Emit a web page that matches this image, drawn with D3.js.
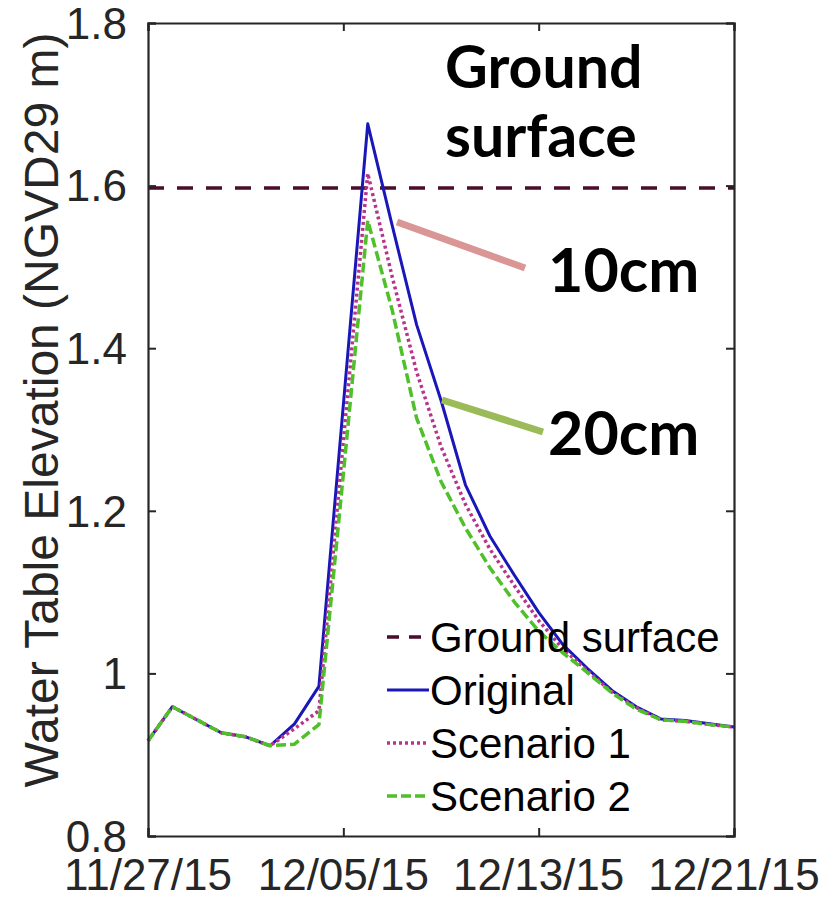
<!DOCTYPE html>
<html>
<head>
<meta charset="utf-8">
<script src="https://cdn.jsdelivr.net/npm/d3@7"></script>
<style>
  body { margin: 0; background: #fff; }
  svg { display: block; }
</style>
</head>
<body>
<script>
// daily dates of the record
const dates = [
  '2015-11-27', '2015-11-28', '2015-11-29', '2015-11-30', '2015-12-01',
  '2015-12-02', '2015-12-03', '2015-12-04', '2015-12-05', '2015-12-06',
  '2015-12-07', '2015-12-08', '2015-12-09', '2015-12-10', '2015-12-11',
  '2015-12-12', '2015-12-13', '2015-12-14', '2015-12-15', '2015-12-16',
  '2015-12-17', '2015-12-18', '2015-12-19', '2015-12-20', '2015-12-21'
];
const original = [0.917, 0.959, 0.943, 0.927, 0.922, 0.911, 0.938, 0.984, 1.330, 1.676,
  1.551, 1.429, 1.336, 1.232, 1.169, 1.121, 1.075, 1.035, 1.006, 0.979,
  0.959, 0.944, 0.942, 0.938, 0.934];
const scenario1 = [0.917, 0.959, 0.943, 0.927, 0.922, 0.911, 0.932, 0.954, 1.285, 1.615,
  1.488, 1.371, 1.279, 1.208, 1.153, 1.108, 1.065, 1.030, 1.003, 0.977,
  0.958, 0.943, 0.941, 0.937, 0.934];
const scenario2 = [0.917, 0.959, 0.943, 0.927, 0.922, 0.911, 0.913, 0.937, 1.245, 1.557,
  1.447, 1.314, 1.236, 1.179, 1.130, 1.088, 1.052, 1.025, 1.001, 0.976,
  0.956, 0.943, 0.941, 0.937, 0.934];
const groundDates = ['2015-11-27', '2015-12-21'];
const groundSurface = [1.597, 1.597];

const xTicks = ['2015-11-27', '2015-12-05', '2015-12-13', '2015-12-21'];
const xTickLabels = ['11/27/15', '12/05/15', '12/13/15', '12/21/15'];
const yTicks = [0.8, 1, 1.2, 1.4, 1.6, 1.8];
const yTickLabels = ['0.8', '1', '1.2', '1.4', '1.6', '1.8'];
const seriesNames = ['Ground surface', 'Original', 'Scenario 1', 'Scenario 2'];

const parse = d3.timeParse('%Y-%m-%d');
const width = 836, height = 900;
const m = { left: 148, right: 734, top: 23, bottom: 836 };
const axisColor = '#262626';

const x = d3.scaleTime()
  .domain([parse(dates[0]), parse(dates[dates.length - 1])])
  .range([m.left, m.right]);
const y = d3.scaleLinear().domain([0.8, 1.8]).range([m.bottom, m.top]);

const styles = [
  { color: '#4a0d2c', width: 3.5, dash: '16,13' },
  { color: '#1a17b8', width: 3, dash: null },
  { color: '#b8338c', width: 3.5, dash: '3,3' },
  { color: '#4fbf2a', width: 3.5, dash: '10,4' }
];

const svg = d3.select('body').append('svg')
  .attr('width', width)
  .attr('height', height);

const toPts = (ds, vs) => ds.map((d, i) => ({ date: parse(d), v: vs[i] }));
const series = [
  toPts(groundDates, groundSurface),
  toPts(dates, original),
  toPts(dates, scenario1),
  toPts(dates, scenario2)
];

const line = d3.line().x((d) => x(d.date)).y((d) => y(d.v));

svg.append('g')
  .selectAll('path')
  .data(series)
  .join('path')
  .attr('fill', 'none')
  .attr('stroke', (d, i) => styles[i].color)
  .attr('stroke-width', (d, i) => styles[i].width)
  .attr('stroke-dasharray', (d, i) => styles[i].dash)
  .attr('stroke-linejoin', 'round')
  .attr('d', line);

// axes box, ticks inward on all sides (matlab style)
const tickLen = 8;
const xAxisB = d3.axisBottom(x).tickValues(xTicks.map(parse)).tickSize(-tickLen).tickFormat('');
const xAxisT = d3.axisTop(x).tickValues(xTicks.map(parse)).tickSize(-tickLen).tickFormat('');
const yAxisL = d3.axisLeft(y).tickValues(yTicks).tickSize(-tickLen).tickFormat('');
const yAxisR = d3.axisRight(y).tickValues(yTicks).tickSize(-tickLen).tickFormat('');

const axes = [
  svg.append('g').attr('transform', `translate(0,${m.bottom})`).call(xAxisB),
  svg.append('g').attr('transform', `translate(0,${m.top})`).call(xAxisT),
  svg.append('g').attr('transform', `translate(${m.left},0)`).call(yAxisL),
  svg.append('g').attr('transform', `translate(${m.right},0)`).call(yAxisR)
];
axes.forEach((g) => {
  g.select('.domain').attr('stroke', axisColor).attr('stroke-width', 2.2);
  g.selectAll('.tick line').attr('stroke', axisColor).attr('stroke-width', 2);
});

// tick labels
svg.append('g')
  .selectAll('text')
  .data(xTicks)
  .join('text')
  .attr('x', (d) => x(parse(d)))
  .attr('y', 890)
  .attr('text-anchor', 'middle')
  .attr('font-family', 'Liberation Sans, Arial, sans-serif')
  .attr('font-size', 44)
  .attr('fill', axisColor)
  .text((d, i) => xTickLabels[i]);

svg.append('g')
  .selectAll('text')
  .data(yTicks)
  .join('text')
  .attr('x', 127)
  .attr('y', (d) => y(d))
  .attr('dy', '0.36em')
  .attr('text-anchor', 'end')
  .attr('font-family', 'Liberation Sans, Arial, sans-serif')
  .attr('font-size', 44)
  .attr('fill', axisColor)
  .text((d, i) => yTickLabels[i]);

svg.append('text')
  .attr('transform', 'translate(58,410) rotate(-90)')
  .attr('text-anchor', 'middle')
  .attr('font-family', 'Liberation Sans, Arial, sans-serif')
  .attr('font-size', 48)
  .attr('fill', axisColor)
  .text('Water Table Elevation (NGVD29 m)');

// legend
const legend = svg.append('g').attr('transform', 'translate(385,637)');
const rows = legend.selectAll('g')
  .data(seriesNames)
  .join('g')
  .attr('transform', (d, i) => `translate(0,${i * 53})`);
rows.append('line')
  .attr('x1', 2).attr('x2', 44)
  .attr('stroke', (d, i) => styles[i].color)
  .attr('stroke-width', (d, i) => styles[i].width)
  .attr('stroke-dasharray', (d, i) => (i === 0 ? '12,10' : styles[i].dash));
rows.append('text')
  .attr('x', 45)
  .attr('dy', '0.36em')
  .attr('font-family', 'Liberation Sans, Arial, sans-serif')
  .attr('font-size', 42)
  .attr('fill', '#000')
  .text((d) => d);

// annotations
const note = svg.append('g')
  .attr('font-family', 'Lato, Open Sans, sans-serif')
  .attr('font-weight', 700)
  .attr('font-size', 59)
  .attr('fill', '#000');
note.append('text').attr('x', 445).attr('y', 88).text('Ground');
note.append('text').attr('x', 445).attr('y', 157).text('surface');
note.append('text').attr('x', 548).attr('y', 292).attr('font-size', 61).text('10cm');
note.append('text').attr('x', 548).attr('y', 455).attr('font-size', 61).text('20cm');

svg.append('line')
  .attr('x1', 397).attr('y1', 222).attr('x2', 525).attr('y2', 268)
  .attr('stroke', '#d99694').attr('stroke-width', 7);
svg.append('line')
  .attr('x1', 442).attr('y1', 400).attr('x2', 543).attr('y2', 432)
  .attr('stroke', '#9bbb59').attr('stroke-width', 7);
</script>
</body>
</html>
